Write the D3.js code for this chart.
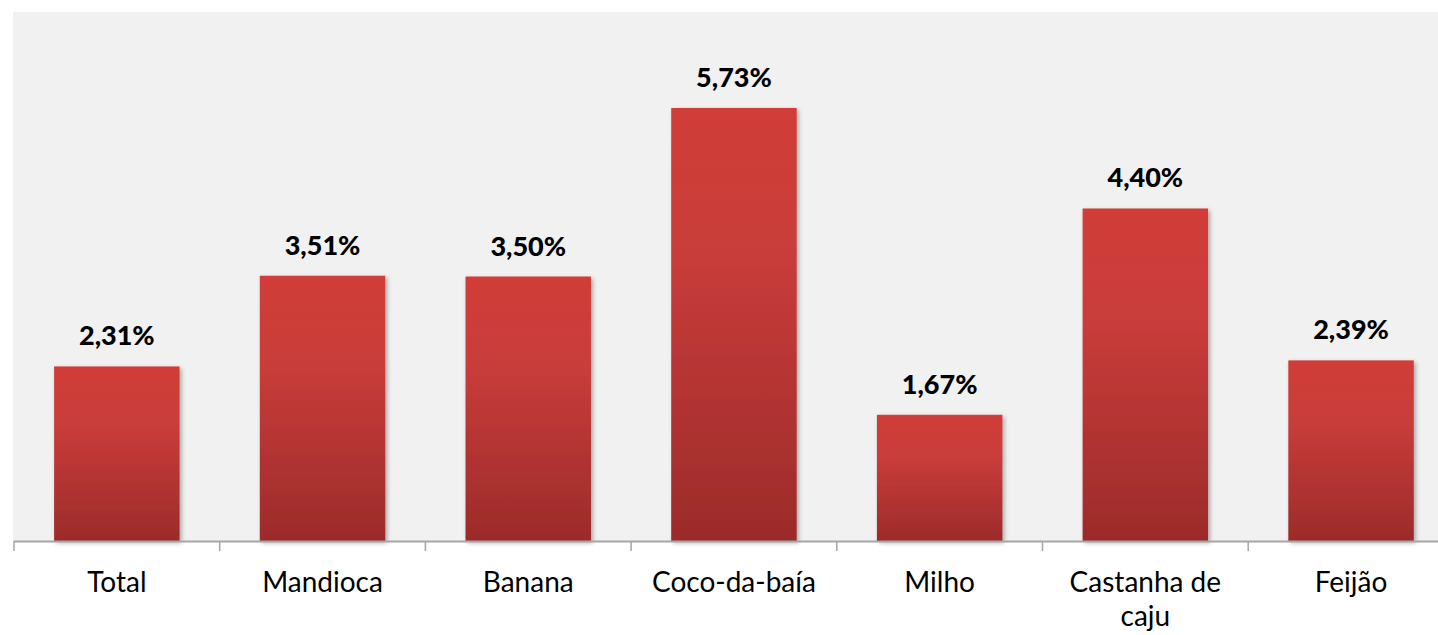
<html>
<head>
<meta charset="utf-8">
<script src="https://cdn.jsdelivr.net/npm/d3@7"></script>
<style>
body { margin: 0; background: #fff; }
text { font-family: Lato, "Open Sans", sans-serif; }
</style>
</head>
<body>
<div id="canvas"></div>
<script>

var width = 1438;
var height = 635;

var categories = ["Total", "Mandioca", "Banana", "Coco-da-baía", "Milho", "Castanha de caju", "Feijão"];
var values = [2.31, 3.51, 3.50, 5.73, 1.67, 4.40, 2.39];
var valueLabels = ["2,31%", "3,51%", "3,50%", "5,73%", "1,67%", "4,40%", "2,39%"];

var plotLeft = 14, plotTop = 12, plotBottom = 541;

var svg = d3.select("#canvas").append("svg").attr("width", width).attr("height", height);

var defs = svg.append("defs");
var grad = defs.append("linearGradient").attr("id", "barGrad")
    .attr("x1", 0).attr("y1", 0).attr("x2", 0).attr("y2", 1);
grad.append("stop").attr("offset", "0%").attr("stop-color", "#d13c39");
grad.append("stop").attr("offset", "35%").attr("stop-color", "#c83c3a");
grad.append("stop").attr("offset", "100%").attr("stop-color", "#9c2b2a");

var shadow = defs.append("filter").attr("id", "shadow")
    .attr("x", "-10%").attr("y", "-10%").attr("width", "130%").attr("height", "120%");
shadow.append("feDropShadow").attr("dx", 2).attr("dy", 2).attr("stdDeviation", 2)
    .attr("flood-color", "#000").attr("flood-opacity", 0.3);

// plot background
svg.append("rect")
    .attr("x", plotLeft - 1).attr("y", plotTop)
    .attr("width", width - plotLeft + 1).attr("height", plotBottom - plotTop)
    .attr("fill", "#f1f1f1");

var x = d3.scaleBand().domain(categories)
    .range([plotLeft, plotLeft + 7 * 205.7])
    .paddingInner(0.39).paddingOuter(0.195);

var y = d3.scaleLinear().domain([0, 7]).range([plotBottom, plotTop]);

svg.selectAll(".bar").data(values).enter().append("rect")
    .attr("class", "bar")
    .attr("x", function(d, i) { return x(categories[i]); })
    .attr("y", function(d) { return y(d); })
    .attr("width", x.bandwidth())
    .attr("height", function(d) { return y(0) - y(d); })
    .attr("fill", "url(#barGrad)")
    .attr("filter", "url(#shadow)");

svg.selectAll(".val").data(values).enter().append("text")
    .attr("class", "val")
    .attr("x", function(d, i) { return x(categories[i]) + x.bandwidth() / 2; })
    .attr("y", function(d) { return y(d) - 21; })
    .attr("text-anchor", "middle")
    .attr("font-size", 27)
    .attr("font-weight", 900)
    .attr("fill", "#000")
    .text(function(d, i) { return valueLabels[i]; });

// axis line + boundary ticks
svg.append("line")
    .attr("x1", plotLeft).attr("x2", width)
    .attr("y1", plotBottom + 0.5).attr("y2", plotBottom + 0.5)
    .attr("stroke", "#a6a6a6").attr("stroke-width", 2);

for (var i = 0; i <= categories.length; i++) {
    var tx = x.range()[0] + i * x.step();
    svg.append("line")
        .attr("x1", tx).attr("x2", tx)
        .attr("y1", plotBottom).attr("y2", plotBottom + 10)
        .attr("stroke", "#a6a6a6").attr("stroke-width", 1.5);
}

// category labels
categories.forEach(function(c, i) {
    var cx = x(c) + x.bandwidth() / 2;
    var lines = c === "Castanha de caju" ? ["Castanha de", "caju"] : [c];
    var t = svg.append("text")
        .attr("x", cx).attr("y", 592)
        .attr("text-anchor", "middle")
        .attr("font-size", 28)
        .attr("fill", "#000");
    lines.forEach(function(l, j) {
        t.append("tspan").attr("x", cx).attr("dy", j === 0 ? 0 : 34).text(l);
    });
});

</script>
</body>
</html>
